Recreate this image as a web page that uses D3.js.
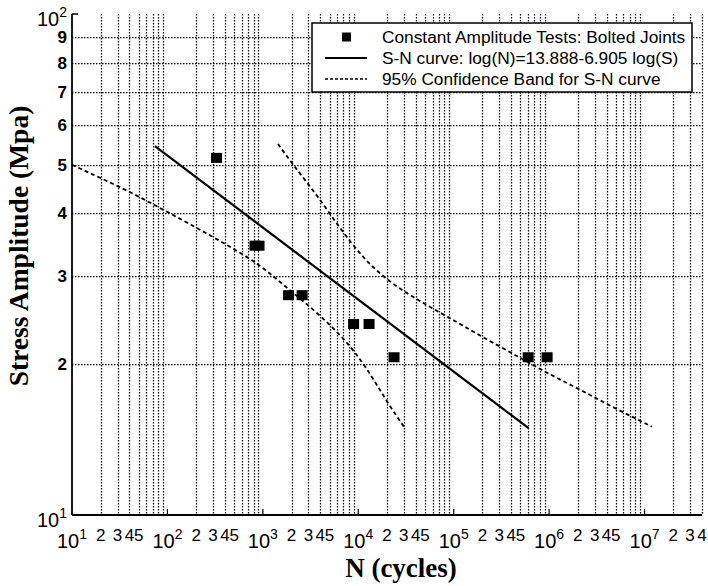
<!DOCTYPE html>
<html>
<head>
<meta charset="utf-8">
<script src="https://cdn.jsdelivr.net/npm/d3@7"></script>
<style>
  html, body { margin: 0; padding: 0; background: #fff; }
  svg { display: block; }
</style>
</head>
<body>
<svg id="chart" width="708" height="586"></svg>
<script>
// ---------- data ----------
const pointN = [327, 828, 912, 1860, 2580, 8930, 12970, 23700, 6.03e5, 9.53e5];
const pointS = [51.5, 34.4, 34.4, 27.4, 27.4, 24.0, 24.0, 20.6, 20.6, 20.6];

const fitN = [74, 6.1e5];
const fitS = [54.5, 14.9];

const lowerN = [10, 37.7, 83.6, 185, 421, 935, 1630, 3700, 8200, 13960, 20000, 30900];
const lowerS = [50.0, 44.5, 41.0, 37.8, 34.6, 31.6, 28.8, 25.4, 21.9, 18.9, 16.8, 14.9];

const upperN = [1443, 2070, 3700, 6440, 11200, 20000, 41300, 85300, 1.89e5, 4.97e5, 9.5e5, 2.11e6, 4.69e6, 1.2e7];
const upperS = [55.0, 50.0, 43.5, 37.3, 32.6, 29.4, 26.9, 24.9, 22.8, 20.6, 19.2, 17.8, 16.4, 15.0];

const xDecades = [1, 2, 3, 4, 5, 6, 7];           // exponents of 10 labelled on x
const xMinorMults = [2, 3, 4, 5];                  // minor labels per decade
const yMinorLabels = [2, 3, 4, 5, 6, 7, 8, 9];     // y labels (x10)
const yDecades = [1, 2];

const legendLabels = [
  "Constant Amplitude Tests: Bolted Joints",
  "S-N curve: log(N)=13.888-6.905 log(S)",
  "95% Confidence Band for S-N curve"
];
const xTitle = "N (cycles)";
const yTitle = "Stress Amplitude (Mpa)";

// ---------- layout ----------
const svg = d3.select("#chart");
const pLeft = 72, pRight = 702, pTop = 14, pBottom = 515;
const x = d3.scaleLog().domain([10, 4e7]).range([pLeft, pRight]);
const y = d3.scaleLog().domain([10, 100]).range([pBottom, pTop]);

const sans = "'Liberation Sans', Arial, Helvetica, sans-serif";
const serif = "'Liberation Serif', 'Times New Roman', Times, serif";

// ---------- grid ----------
const xGridVals = [];
for (let e = 1; e <= 7; e++) {
  for (let m = 2; m <= 9; m++) {
    const v = m * Math.pow(10, e);
    if (v <= 4e7 * 1.0001) xGridVals.push(v);
  }
}
const yGridVals = yMinorLabels.map(d => d * 10);

const grid = svg.append("g").attr("stroke", "#000").attr("stroke-width", 1.25)
  .attr("stroke-dasharray", "1.5,1.5").attr("fill", "none");
grid.selectAll("line.vx").data(xGridVals).join("line")
  .attr("class", "vx")
  .attr("x1", d => Math.round(x(d)) + 0.5).attr("x2", d => Math.round(x(d)) + 0.5)
  .attr("y1", pTop).attr("y2", pBottom);
grid.selectAll("line.hy").data(yGridVals).join("line")
  .attr("class", "hy")
  .attr("y1", d => Math.round(y(d)) + 0.5).attr("y2", d => Math.round(y(d)) + 0.5)
  .attr("x1", pLeft).attr("x2", pRight);

// decade ticks (short) on bottom axis
svg.append("g").selectAll("line").data(xDecades.slice(1)).join("line")
  .attr("x1", d => x(Math.pow(10, d))).attr("x2", d => x(Math.pow(10, d)))
  .attr("y1", pBottom).attr("y2", pBottom - 6)
  .attr("stroke", "#000").attr("stroke-width", 1.2);

// axes lines
svg.append("line").attr("x1", pLeft).attr("x2", pLeft).attr("y1", pTop).attr("y2", pBottom)
  .attr("stroke", "#000").attr("stroke-width", 1.8);
svg.append("line").attr("x1", pLeft).attr("x2", pRight).attr("y1", pBottom).attr("y2", pBottom)
  .attr("stroke", "#000").attr("stroke-width", 1.8);
svg.append("line").attr("x1", pLeft).attr("x2", pLeft + 6).attr("y1", pTop).attr("y2", pTop)
  .attr("stroke", "#000").attr("stroke-width", 1.5);

// ---------- curves ----------
const line = d3.line().x(d => x(d[0])).y(d => y(d[1])).curve(d3.curveBasis);

svg.append("path").datum(d3.zip(lowerN, lowerS)).attr("d", line)
  .attr("fill", "none").attr("stroke", "#000").attr("stroke-width", 1.8)
  .attr("stroke-dasharray", "4,3");
svg.append("path").datum(d3.zip(upperN, upperS)).attr("d", line)
  .attr("fill", "none").attr("stroke", "#000").attr("stroke-width", 1.8)
  .attr("stroke-dasharray", "4,3");
svg.append("path").datum(d3.zip(fitN, fitS)).attr("d", d3.line().x(d => x(d[0])).y(d => y(d[1])))
  .attr("fill", "none").attr("stroke", "#000").attr("stroke-width", 2.2);

// ---------- points ----------
const sq = 11;
svg.append("g").selectAll("rect").data(d3.zip(pointN, pointS)).join("rect")
  .attr("x", d => x(d[0]) - sq / 2).attr("y", d => y(d[1]) - sq / 2)
  .attr("width", sq).attr("height", sq - 1).attr("fill", "#000");

// ---------- x tick labels ----------
const xl = svg.append("g").attr("font-family", sans).attr("fill", "#000");
xDecades.forEach(e => {
  const t = xl.append("text").attr("x", x(Math.pow(10, e))).attr("y", 548)
    .attr("text-anchor", "middle").attr("font-size", 20);
  t.append("tspan").text("10");
  t.append("tspan").attr("font-size", 14).attr("dy", -9).text(e);
});
const xMinorVals = [];
xDecades.forEach(e => {
  xMinorMults.forEach(m => {
    const v = m * Math.pow(10, e);
    if (v <= 4e7 * 1.0001) xMinorVals.push({ v, m });
  });
});
xl.selectAll("text.minor").data(xMinorVals).join("text")
  .attr("class", "minor")
  .attr("x", d => x(d.v)).attr("y", 541)
  .attr("text-anchor", "middle").attr("font-size", 17)
  .text(d => d.m);

// ---------- y tick labels ----------
const yl = svg.append("g").attr("font-family", sans).attr("fill", "#000");
yl.selectAll("text.minor").data(yMinorLabels).join("text")
  .attr("class", "minor")
  .attr("x", 67).attr("y", d => y(d * 10)).attr("dy", "0.36em")
  .attr("text-anchor", "end").attr("font-size", 17).attr("font-weight", "bold")
  .text(d => d);
yDecades.forEach(e => {
  const t = yl.append("text").attr("x", 67).attr("y", y(Math.pow(10, e)) + 12)
    .attr("text-anchor", "end").attr("font-size", 20);
  t.append("tspan").text("10");
  t.append("tspan").attr("font-size", 14).attr("dy", -9).text(e);
});

// ---------- axis titles ----------
svg.append("text").attr("x", 401).attr("y", 577).attr("text-anchor", "middle")
  .attr("font-family", serif).attr("font-weight", "bold").attr("font-size", 27)
  .text(xTitle);
svg.append("text").attr("transform", "translate(28,246) rotate(-90)")
  .attr("text-anchor", "middle")
  .attr("font-family", serif).attr("font-weight", "bold").attr("font-size", 27.5)
  .text(yTitle);

// ---------- legend ----------
const lg = svg.append("g");
lg.append("rect").attr("x", 312).attr("y", 23).attr("width", 380).attr("height", 69)
  .attr("fill", "#fff").attr("stroke", "#000").attr("stroke-width", 1.5);
const rowY = [37, 58, 79];
lg.append("rect").attr("x", 342).attr("y", rowY[0] - 4.5).attr("width", 9).attr("height", 9).attr("fill", "#000");
lg.append("line").attr("x1", 325).attr("x2", 367).attr("y1", rowY[1]).attr("y2", rowY[1])
  .attr("stroke", "#000").attr("stroke-width", 1.8);
lg.append("line").attr("x1", 325).attr("x2", 367).attr("y1", rowY[2]).attr("y2", rowY[2])
  .attr("stroke", "#000").attr("stroke-width", 1.5).attr("stroke-dasharray", "3,2");
lg.selectAll("text").data(legendLabels).join("text")
  .attr("x", 382).attr("y", (d, i) => rowY[i]).attr("dy", "0.35em")
  .attr("font-family", sans).attr("font-size", 17.3).attr("fill", "#000")
  .text(d => d);
</script>
</body>
</html>
